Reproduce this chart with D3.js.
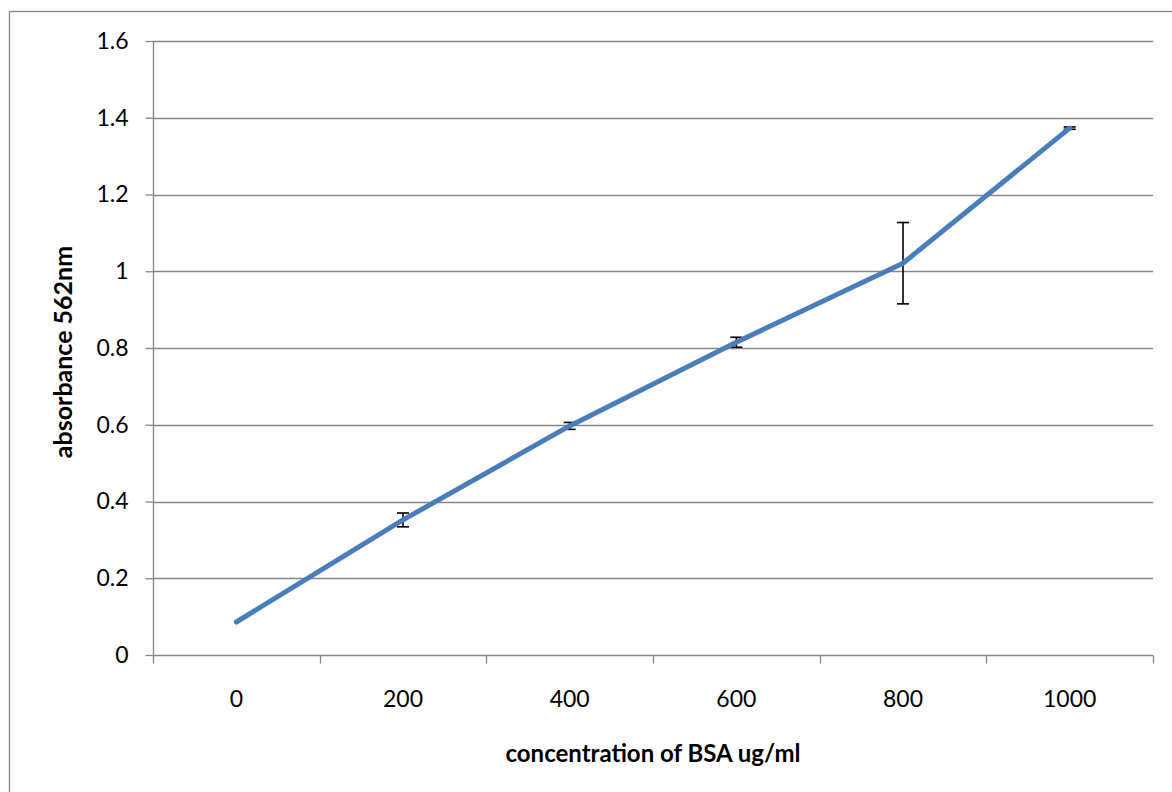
<!DOCTYPE html>
<html>
<head>
<meta charset="utf-8">
<script src="https://cdn.jsdelivr.net/npm/d3@7"></script>
<style>
  html, body { margin: 0; padding: 0; background: #fff; }
  svg { display: block; }
  text { font-family: Lato, "Open Sans", sans-serif; fill: #000; }
</style>
</head>
<body>
<svg id="chart" width="1172" height="792"></svg>
<script>
// BSA standard curve: absorbance at 562 nm by concentration
const categories = ["0", "200", "400", "600", "800", "1000"];
const absorbance = [0.086, 0.352, 0.597, 0.815, 1.021, 1.373];
const errors = [0, 0.018, 0.009, 0.013, 0.106, 0.003];
const yTicks = [0, 0.2, 0.4, 0.6, 0.8, 1, 1.2, 1.4, 1.6];
const xTitle = "concentration of BSA ug/ml";
const yTitle = "absorbance 562nm";

const svg = d3.select("#chart");
const plot = { left: 153, right: 1153, top: 41, bottom: 655 };
const axisGrey = "#868686";

// outer chart frame
svg.append("rect")
  .attr("x", 9.5).attr("y", 11.5)
  .attr("width", 1300).attr("height", 900)
  .attr("fill", "none").attr("stroke", axisGrey).attr("stroke-width", 1.3);

const x = d3.scaleBand().domain(categories).range([plot.left, plot.right]);
const y = d3.scaleLinear().domain([0, 1.6]).range([plot.bottom, plot.top]);

// horizontal gridlines
svg.append("g").selectAll("line")
  .data(yTicks.filter(v => v > 0))
  .join("line")
  .attr("x1", plot.left).attr("x2", plot.right)
  .attr("y1", d => Math.round(y(d)) + 0.5).attr("y2", d => Math.round(y(d)) + 0.5)
  .attr("stroke", axisGrey).attr("stroke-width", 1.3);

// y axis
const yAxis = svg.append("g")
  .attr("transform", `translate(${plot.left + 0.5},0)`)
  .call(d3.axisLeft(y).tickValues(yTicks).tickSize(8).tickPadding(17).tickFormat(d => String(d)));
yAxis.selectAll("line, path").attr("stroke", axisGrey).attr("stroke-width", 1.3);
yAxis.select(".domain").attr("d", `M0,${plot.top}V${plot.bottom}`);
yAxis.selectAll("text").attr("font-size", 23).attr("font-family", "Lato, sans-serif").attr("fill", "#000");

// x axis: baseline, boundary ticks and centred category labels
const xAxis = svg.append("g").attr("transform", `translate(0,${plot.bottom + 0.5})`);
xAxis.append("line")
  .attr("x1", plot.left).attr("x2", plot.right)
  .attr("stroke", axisGrey).attr("stroke-width", 1.3);
const bounds = categories.map(c => x(c)).concat([x(categories[categories.length - 1]) + x.bandwidth()]);
xAxis.selectAll("line.tick")
  .data(bounds)
  .join("line")
  .attr("class", "tick")
  .attr("x1", d => Math.round(d) + 0.5).attr("x2", d => Math.round(d) + 0.5)
  .attr("y1", 0).attr("y2", 8)
  .attr("stroke", axisGrey).attr("stroke-width", 1.3);
xAxis.selectAll("text")
  .data(categories)
  .join("text")
  .attr("x", d => x(d) + x.bandwidth() / 2)
  .attr("y", 51)
  .attr("text-anchor", "middle")
  .attr("font-size", 23)
  .text(d => d);

// error bars
const cx = c => x(c) + x.bandwidth() / 2;
const eb = svg.append("g").attr("stroke", "#000").attr("stroke-width", 1.6);
categories.forEach((c, i) => {
  if (!errors[i]) return;
  const x0 = cx(c), yTop = y(absorbance[i] + errors[i]), yBot = y(absorbance[i] - errors[i]);
  eb.append("line").attr("x1", x0).attr("x2", x0).attr("y1", yTop).attr("y2", yBot);
  eb.append("line").attr("x1", x0 - 6).attr("x2", x0 + 6).attr("y1", yTop).attr("y2", yTop);
  eb.append("line").attr("x1", x0 - 6).attr("x2", x0 + 6).attr("y1", yBot).attr("y2", yBot);
});

// data line
const line = d3.line()
  .x((d, i) => cx(categories[i]))
  .y(d => y(d));
svg.append("path")
  .datum(absorbance)
  .attr("d", line)
  .attr("fill", "none")
  .attr("stroke", "#4a7ebb")
  .attr("stroke-width", 5)
  .attr("stroke-linecap", "round")
  .attr("stroke-linejoin", "round");

// axis titles
svg.append("text")
  .attr("x", (plot.left + plot.right) / 2)
  .attr("y", 762)
  .attr("text-anchor", "middle")
  .attr("font-size", 24)
  .attr("font-weight", "bold")
  .text(xTitle);

svg.append("text")
  .attr("transform", `translate(72,352) rotate(-90)`)
  .attr("text-anchor", "middle")
  .attr("font-size", 25)
  .attr("font-weight", "bold")
  .text(yTitle);
</script>
</body>
</html>
